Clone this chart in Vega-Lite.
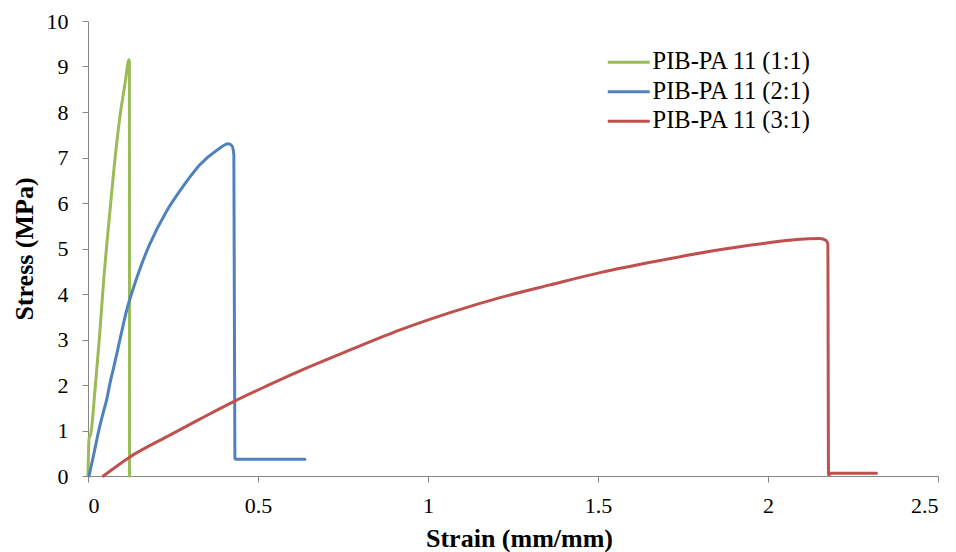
{
  "$schema": "https://vega.github.io/schema/vega-lite/v6.json",
  "width": 850,
  "height": 455,
  "autosize": {"type": "none"},
  "padding": {"left": 88, "top": 21, "right": 18, "bottom": 76},
  "background": "white",
  "config": {
    "view": {"stroke": null},
    "font": "Liberation Serif",
    "axis": {
      "grid": false,
      "domainColor": "#868686",
      "tickColor": "#868686",
      "tickSize": 6,
      "labelFont": "Liberation Serif",
      "labelFontSize": 22,
      "labelColor": "#000000",
      "titleFont": "Liberation Serif",
      "titleFontSize": 26,
      "titleFontWeight": "bold",
      "titleColor": "#000000"
    }
  },
  "data": {
    "values": [
      {"series": "PIB-PA 11 (1:1)", "i": 1, "strain": 0.0, "stress": 0.0},
      {"series": "PIB-PA 11 (1:1)", "i": 2, "strain": 0.003, "stress": 0.82},
      {"series": "PIB-PA 11 (1:1)", "i": 3, "strain": 0.008, "stress": 0.92},
      {"series": "PIB-PA 11 (1:1)", "i": 4, "strain": 0.0206, "stress": 1.89},
      {"series": "PIB-PA 11 (1:1)", "i": 5, "strain": 0.033, "stress": 2.99},
      {"series": "PIB-PA 11 (1:1)", "i": 6, "strain": 0.047, "stress": 4.38},
      {"series": "PIB-PA 11 (1:1)", "i": 7, "strain": 0.063, "stress": 5.7},
      {"series": "PIB-PA 11 (1:1)", "i": 8, "strain": 0.077, "stress": 6.8},
      {"series": "PIB-PA 11 (1:1)", "i": 9, "strain": 0.094, "stress": 7.9},
      {"series": "PIB-PA 11 (1:1)", "i": 10, "strain": 0.109, "stress": 8.63},
      {"series": "PIB-PA 11 (1:1)", "i": 11, "strain": 0.1206, "stress": 9.15},
      {"series": "PIB-PA 11 (1:1)", "i": 12, "strain": 0.1218, "stress": 9.1},
      {"series": "PIB-PA 11 (1:1)", "i": 13, "strain": 0.1222, "stress": 0.0},

      {"series": "PIB-PA 11 (2:1)", "i": 1, "strain": 0.003, "stress": 0.0},
      {"series": "PIB-PA 11 (2:1)", "i": 2, "strain": 0.0176, "stress": 0.5},
      {"series": "PIB-PA 11 (2:1)", "i": 3, "strain": 0.032, "stress": 1.01},
      {"series": "PIB-PA 11 (2:1)", "i": 4, "strain": 0.045, "stress": 1.4},
      {"series": "PIB-PA 11 (2:1)", "i": 5, "strain": 0.055, "stress": 1.68},
      {"series": "PIB-PA 11 (2:1)", "i": 6, "strain": 0.065, "stress": 2.05},
      {"series": "PIB-PA 11 (2:1)", "i": 7, "strain": 0.076, "stress": 2.4},
      {"series": "PIB-PA 11 (2:1)", "i": 8, "strain": 0.094, "stress": 3.0},
      {"series": "PIB-PA 11 (2:1)", "i": 9, "strain": 0.114, "stress": 3.65},
      {"series": "PIB-PA 11 (2:1)", "i": 10, "strain": 0.133, "stress": 4.12},
      {"series": "PIB-PA 11 (2:1)", "i": 11, "strain": 0.155, "stress": 4.6},
      {"series": "PIB-PA 11 (2:1)", "i": 12, "strain": 0.182, "stress": 5.1},
      {"series": "PIB-PA 11 (2:1)", "i": 13, "strain": 0.231, "stress": 5.82},
      {"series": "PIB-PA 11 (2:1)", "i": 14, "strain": 0.28, "stress": 6.37},
      {"series": "PIB-PA 11 (2:1)", "i": 15, "strain": 0.329, "stress": 6.84},
      {"series": "PIB-PA 11 (2:1)", "i": 16, "strain": 0.379, "stress": 7.16},
      {"series": "PIB-PA 11 (2:1)", "i": 17, "strain": 0.413, "stress": 7.3},
      {"series": "PIB-PA 11 (2:1)", "i": 18, "strain": 0.424, "stress": 7.25},
      {"series": "PIB-PA 11 (2:1)", "i": 19, "strain": 0.429, "stress": 7.05},
      {"series": "PIB-PA 11 (2:1)", "i": 20, "strain": 0.432, "stress": 0.39},
      {"series": "PIB-PA 11 (2:1)", "i": 21, "strain": 0.436, "stress": 0.37},
      {"series": "PIB-PA 11 (2:1)", "i": 22, "strain": 0.638, "stress": 0.37},

      {"series": "PIB-PA 11 (3:1)", "i": 1, "strain": 0.045, "stress": 0.0},
      {"series": "PIB-PA 11 (3:1)", "i": 2, "strain": 0.1235, "stress": 0.42},
      {"series": "PIB-PA 11 (3:1)", "i": 3, "strain": 0.231, "stress": 0.86},
      {"series": "PIB-PA 11 (3:1)", "i": 4, "strain": 0.329, "stress": 1.25},
      {"series": "PIB-PA 11 (3:1)", "i": 5, "strain": 0.427, "stress": 1.63},
      {"series": "PIB-PA 11 (3:1)", "i": 6, "strain": 0.526, "stress": 1.98},
      {"series": "PIB-PA 11 (3:1)", "i": 7, "strain": 0.6235, "stress": 2.31},
      {"series": "PIB-PA 11 (3:1)", "i": 8, "strain": 0.771, "stress": 2.77},
      {"series": "PIB-PA 11 (3:1)", "i": 9, "strain": 0.918, "stress": 3.21},
      {"series": "PIB-PA 11 (3:1)", "i": 10, "strain": 1.065, "stress": 3.59},
      {"series": "PIB-PA 11 (3:1)", "i": 11, "strain": 1.212, "stress": 3.92},
      {"series": "PIB-PA 11 (3:1)", "i": 12, "strain": 1.359, "stress": 4.2},
      {"series": "PIB-PA 11 (3:1)", "i": 13, "strain": 1.506, "stress": 4.47},
      {"series": "PIB-PA 11 (3:1)", "i": 14, "strain": 1.692, "stress": 4.75},
      {"series": "PIB-PA 11 (3:1)", "i": 15, "strain": 1.839, "stress": 4.95},
      {"series": "PIB-PA 11 (3:1)", "i": 16, "strain": 1.986, "stress": 5.11},
      {"series": "PIB-PA 11 (3:1)", "i": 17, "strain": 2.084, "stress": 5.2},
      {"series": "PIB-PA 11 (3:1)", "i": 18, "strain": 2.153, "stress": 5.22},
      {"series": "PIB-PA 11 (3:1)", "i": 19, "strain": 2.17, "stress": 5.18},
      {"series": "PIB-PA 11 (3:1)", "i": 20, "strain": 2.176, "stress": 5.1},
      {"series": "PIB-PA 11 (3:1)", "i": 21, "strain": 2.178, "stress": 0.02},
      {"series": "PIB-PA 11 (3:1)", "i": 22, "strain": 2.185, "stress": 0.06},
      {"series": "PIB-PA 11 (3:1)", "i": 23, "strain": 2.319, "stress": 0.06}
    ]
  },
  "mark": {"type": "line", "strokeWidth": 3, "strokeCap": "round", "strokeJoin": "round", "interpolate": "monotone"},
  "encoding": {
    "x": {
      "field": "strain",
      "type": "quantitative",
      "scale": {"domain": [0, 2.5], "nice": false, "zero": false},
      "axis": {
        "title": "Strain (mm/mm)",
        "values": [0, 0.5, 1, 1.5, 2, 2.5],
        "format": ".1~f",
        "labelPadding": 13,
        "titlePadding": 9,
        "titleX": 431
      }
    },
    "y": {
      "field": "stress",
      "type": "quantitative",
      "scale": {"domain": [0, 10], "nice": false},
      "axis": {
        "title": "Stress (MPa)",
        "values": [0, 1, 2, 3, 4, 5, 6, 7, 8, 9, 10],
        "labelPadding": 14,
        "titlePadding": 9
      }
    },
    "color": {
      "field": "series",
      "type": "nominal",
      "scale": {
        "domain": ["PIB-PA 11 (1:1)", "PIB-PA 11 (2:1)", "PIB-PA 11 (3:1)"],
        "range": ["#9BBB59", "#4F81BD", "#C0504D"]
      },
      "legend": {
        "title": null,
        "orient": "none",
        "legendX": 518,
        "legendY": 29,
        "padding": 0,
        "symbolType": "M-1,0H3",
        "symbolSize": 441,
        "symbolStrokeWidth": 3,
        "labelFont": "Liberation Serif",
        "labelFontSize": 24.5,
        "labelColor": "#000000",
        "labelOffset": 22,
        "labelLimit": 400,
        "rowPadding": 4.5
      }
    },
    "order": {"field": "i", "type": "quantitative"}
  }
}
